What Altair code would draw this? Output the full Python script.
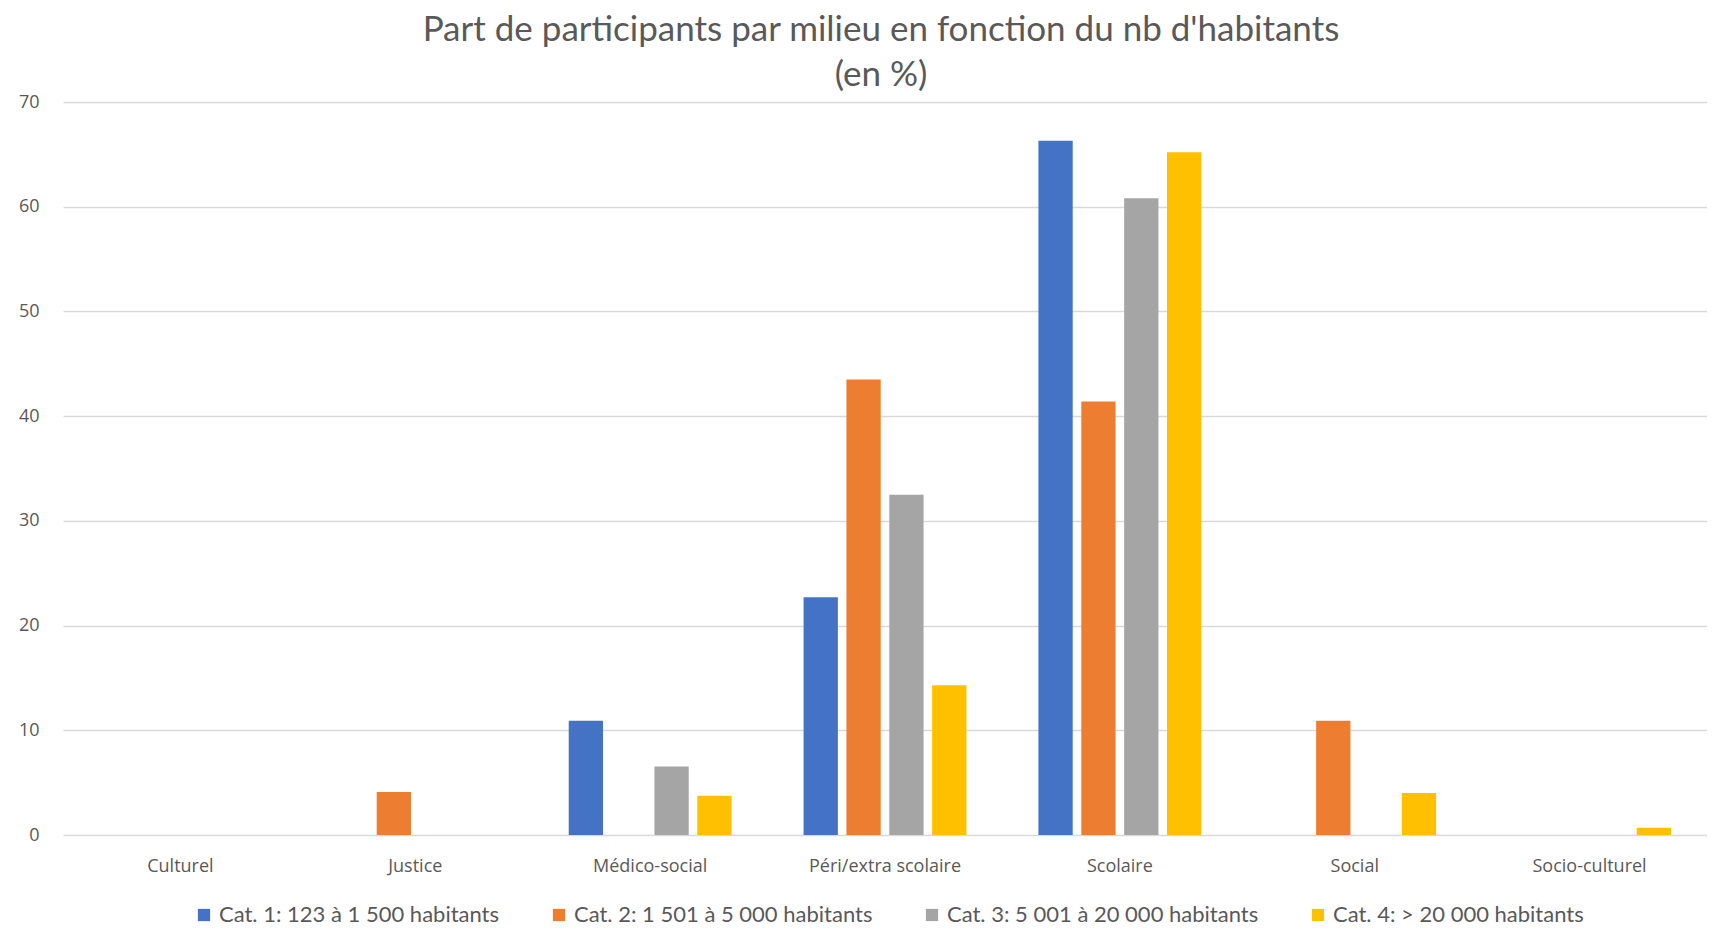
import altair as alt
import pandas as pd

categories = ["Culturel", "Justice", "Médico-social", "Péri/extra scolaire",
              "Scolaire", "Social", "Socio-culturel"]
series = ["Cat. 1: 123 à 1 500 habitants", "Cat. 2: 1 501 à 5 000 habitants",
          "Cat. 3: 5 001 à 20 000 habitants", "Cat. 4: > 20 000 habitants"]
cat1 = [0, 0, 10.9, 22.7, 66.3, 0, 0]
cat2 = [0, 4.1, 0, 43.5, 41.4, 10.9, 0]
cat3 = [0, 0, 6.55, 32.5, 60.8, 0, 0]
cat4 = [0, 0, 3.75, 14.3, 65.2, 4.0, 0.7]
colors = ["#4472C4", "#ED7D31", "#A5A5A5", "#FFC000"]
y_ticks = [0, 10, 20, 30, 40, 50, 60, 70]

rows = []
for s, vals in zip(series, [cat1, cat2, cat3, cat4]):
    for c, v in zip(categories, vals):
        if v > 0:
            rows.append({"milieu": c, "serie": s, "valeur": v})
df = pd.DataFrame(rows)

grey = "#d9d9d9"
text_col = "#595959"

chart = alt.Chart(df).mark_bar().encode(
    x=alt.X("milieu:N", sort=categories,
            scale=alt.Scale(domain=categories, paddingInner=0, paddingOuter=0),
            axis=alt.Axis(title=None, labelAngle=0, ticks=False, grid=False,
                          domain=False,
                          labelFont="Open Sans", labelFontSize=18,
                          labelColor=text_col, labelPadding=22)),
    xOffset=alt.XOffset("serie:N", sort=series,
                        scale=alt.Scale(domain=series, paddingInner=0.2, paddingOuter=0.84)),
    y=alt.Y("valeur:Q", scale=alt.Scale(domain=[0, 70], nice=False),
            axis=alt.Axis(title=None, values=y_ticks, domain=False, ticks=False,
                          gridColor=grey, gridWidth=1.3,
                          labelFont="Open Sans", labelFontSize=18,
                          labelColor=text_col, labelPadding=24)),
    color=alt.Color("serie:N", sort=series,
                    scale=alt.Scale(domain=series, range=colors),
                    legend=alt.Legend(title=None, orient="none", direction="horizontal",
                                      legendX=130, legendY=802,
                                      symbolType="square", symbolSize=150,
                                      symbolStrokeWidth=0, labelLimit=0,
                                      labelFont="Lato", labelFontSize=22,
                                      labelColor=text_col, labelOffset=4,
                                      columnPadding=48)),
).properties(
    width=1644,
    height=733,
    title=alt.TitleParams(
        text=["Part de participants par milieu en fonction du nb d'habitants", "(en %)"],
        font="Lato", fontSize=35, fontWeight="normal", color=text_col,
        anchor="middle", frame="group", lineHeight=45, offset=0, dx=-4,
    ),
    padding={"left": 10, "top": 5, "right": 0, "bottom": 0},
).configure_view(stroke=None)

chart.save("out.html", embed_options={"renderer": "svg", "actions": False})
